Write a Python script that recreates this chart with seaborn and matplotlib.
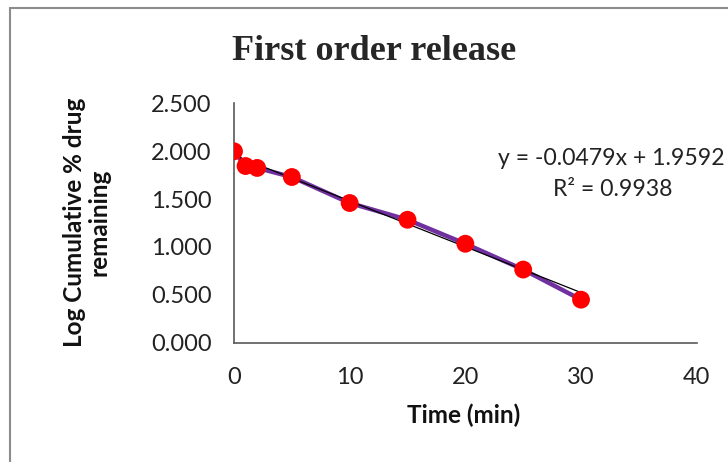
import numpy as np
import pandas as pd
import matplotlib
matplotlib.use("Agg")
import matplotlib.pyplot as plt
from matplotlib.patches import Rectangle
import seaborn as sns

# Release data: time (min) and log cumulative % drug remaining
time_min = [0, 1, 2, 5, 10, 15, 20, 25, 30]
log_remaining = [2.000, 1.846, 1.826, 1.731, 1.459, 1.284, 1.033, 0.763, 0.448]

# Linear trendline coefficients
slope = -0.0479
intercept = 1.9592
r_squared = 0.9938

x_ticks = [0, 10, 20, 30, 40]
y_ticks = [0.0, 0.5, 1.0, 1.5, 2.0, 2.5]

sns.set_style("white")
plt.rcParams["font.family"] = ["Lato", "DejaVu Sans"]

df = pd.DataFrame({"t": time_min, "y": log_remaining})
fit_x = np.array([min(time_min), max(time_min)])
fit_df = pd.DataFrame({"t": fit_x, "y": intercept + slope * fit_x})

W, H = 728, 462
fig = plt.figure(figsize=(W / 100, H / 100), dpi=100)
ax = fig.add_axes([234 / W, 1 - 342.5 / H, (696.7 - 234) / W, (342.5 - 103.5) / H])

sns.lineplot(data=df, x="t", y="y", ax=ax, color="#7030A0", lw=3.2, zorder=2)
sns.lineplot(data=fit_df, x="t", y="y", ax=ax, color="black", lw=0.9, zorder=3)
sns.scatterplot(data=df, x="t", y="y", ax=ax, color="#FF0000", s=165,
                edgecolor="none", zorder=4)

ax.set_xlim(0, 40)
ax.set_ylim(0, 2.5)
ax.set_xticks(x_ticks)
ax.set_yticks(y_ticks)
ax.set_xticklabels([str(v) for v in x_ticks])
ax.set_yticklabels([f"{v:.3f}" for v in y_ticks])

for side in ("top", "right"):
    ax.spines[side].set_visible(False)
for side in ("left", "bottom"):
    ax.spines[side].set_color("#595959")
    ax.spines[side].set_linewidth(1.2)

ax.tick_params(axis="both", which="major", direction="out", length=6, width=1.2,
               color="#595959", labelsize=17, labelcolor="#222222")
ax.tick_params(axis="y", pad=10)
ax.tick_params(axis="x", pad=12)
ax.set_xlabel("")
ax.set_ylabel("")

fig.text(464 / W, 1 - 415 / H, "Time (min)", ha="center", va="center",
         fontsize=17.5, fontweight="bold", color="#111111")
fig.text(87 / W, 1 - 222 / H, "Log Cumulative % drug\nremaining", ha="center",
         va="center", rotation=90, fontsize=17.5, fontweight="bold",
         linespacing=1.1, color="#111111")

fig.text(374 / W, 1 - 52 / H, "First order release", ha="center", va="center",
         fontsize=26, fontweight="bold", family=["Liberation Serif", "DejaVu Serif"])

fig.text(611 / W, 1 - 158 / H, f"y = {slope:.4f}x + {intercept:.4f}",
         ha="center", va="center", fontsize=16.6, color="#222222")
fig.text(613 / W, 1 - 189 / H, f"R² = {r_squared:.4f}",
         ha="center", va="center", fontsize=16.6, color="#222222")

# Chart area border (left and top edges visible)
fig.add_artist(Rectangle((9.5 / W, -0.2), 1.5, 1.2 - 7.5 / H,
                         transform=fig.transFigure, fill=False,
                         edgecolor="#8c8c8c", lw=1.5, clip_on=False))

fig.savefig("out.png", dpi=100)
